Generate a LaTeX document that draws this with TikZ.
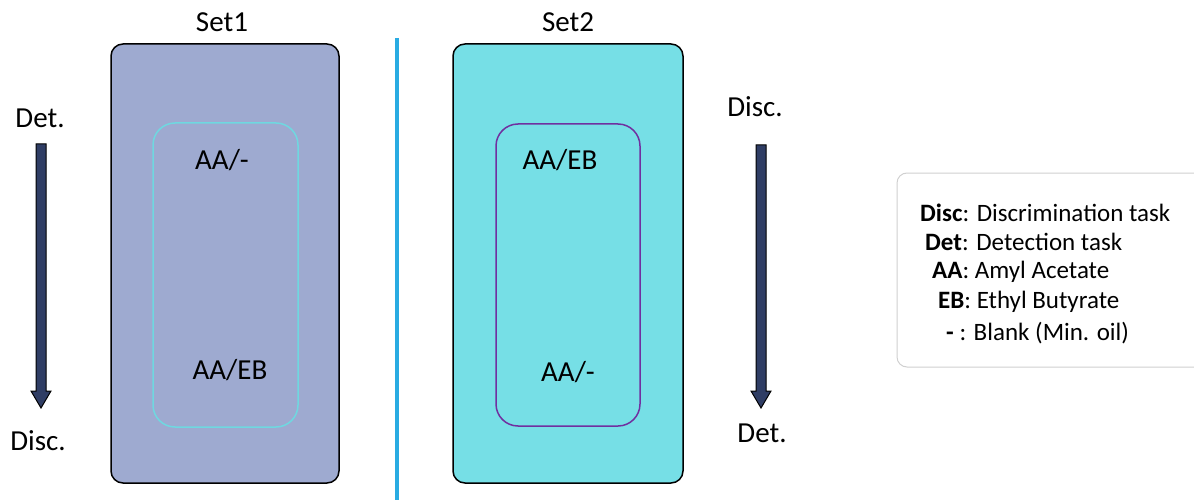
\documentclass[tikz,border=0pt]{standalone}
\usepackage{fontspec}
\setmainfont{Carlito}
\definecolor{setone}{HTML}{9EAAD0}
\definecolor{settwo}{HTML}{76DFE6}
\definecolor{innerone}{HTML}{6FD8E0}
\definecolor{innertwo}{HTML}{7030A0}
\definecolor{divider}{HTML}{29ABE2}
\definecolor{arrowfill}{HTML}{2F3D64}
\definecolor{legendline}{HTML}{D0D0D0}
\tikzset{
  setbox/.style={draw=black, line width=1.5pt, rounded corners=12pt},
  innerbox/.style={line width=1.5pt, rounded corners=22pt},
  lbl/.style={font=\fontsize{29}{34}\selectfont, inner sep=0pt},
  leg/.style={font=\fontsize{25}{30}\selectfont, inner sep=0pt, anchor=west},
  bigarrow/.style={draw=black, line width=1pt, fill=arrowfill, line join=miter}
}
\begin{document}
\begin{tikzpicture}[x=1pt,y=-1pt]
\useasboundingbox (0,0) rectangle (1194,500);
% set boxes
\draw[setbox, fill=setone] (111,44) rectangle (339,483);
\draw[setbox, fill=settwo] (453,44) rectangle (683,483);
\draw[innerbox, draw=innerone] (153,123) rectangle (298,427);
\draw[innerbox, draw=innertwo] (496,124) rectangle (640,426);
% divider
\draw[divider, line width=4pt] (397,38) -- (397,500);
% titles
\node[lbl] (t1) at (222,22) {Set1};
\node[lbl] (t2) at (568,22) {Set2};
% inner labels
\node[lbl] (a1) at (222,160) {AA/-};
\node[lbl] (a2) at (230,370) {AA/EB};
\node[lbl] (b1) at (560,160) {AA/EB};
\node[lbl] (b2) at (568,372) {AA/-};
% arrows
\draw[bigarrow] (36,144) -- (46,144) -- (46,391) -- (51,391) -- (41,408) -- (31,391) -- (36,391) -- cycle;
\draw[bigarrow] (756,145) -- (766,145) -- (766,391) -- (771,391) -- (761,408) -- (751,391) -- (756,391) -- cycle;
\node[lbl] (dl1) at (40,118) {Det.};
\node[lbl] (dl2) at (38,441) {Disc.};
\node[lbl] (dr1) at (755,107) {Disc.};
\node[lbl] (dr2) at (762,433) {Det.};
% legend
\draw[draw=legendline, line width=1pt, rounded corners=10pt] (897,173) rectangle (1205,367);
\node[leg] (l1) at (920,213) {\textbf{Disc}: Discrimination task};
\node[leg] (l2) at (925,242) {\textbf{Det}: Detection task};
\node[leg] (l3) at (932,272) {\textbf{AA}: Amyl Acetate};
\node[leg] (l4) at (938,302) {\textbf{EB}: Ethyl Butyrate};
\node[leg] (l5) at (946,333) {\textbf{-} : Blank (Min. oil)};
\end{tikzpicture}
\end{document}
